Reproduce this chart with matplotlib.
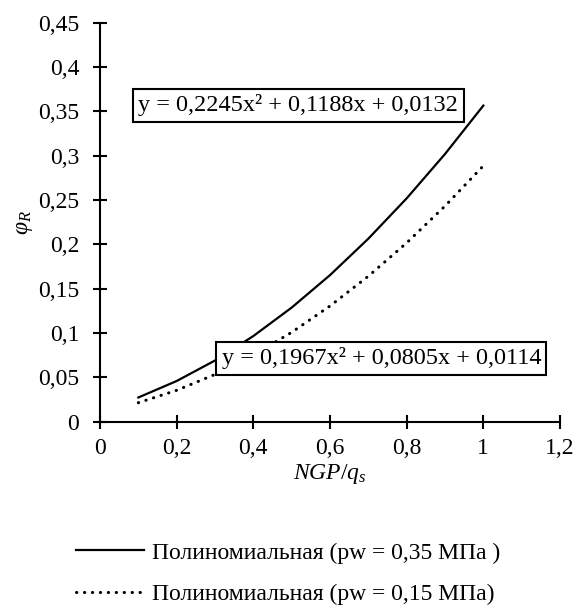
import matplotlib
matplotlib.use("Agg")
import matplotlib.pyplot as plt

plt.rcParams['font.family'] = ['Liberation Serif', 'DejaVu Serif']
plt.rcParams['mathtext.fontset'] = 'custom'
plt.rcParams['mathtext.rm'] = 'Liberation Serif'
plt.rcParams['mathtext.it'] = 'Liberation Serif:italic'

# values
x = [0.1, 0.2, 0.3, 0.4, 0.5, 0.6, 0.7, 0.8, 0.9, 1.0]
y_035 = [0.0273, 0.0459, 0.0690, 0.0966, 0.1287, 0.1653, 0.2064, 0.2519, 0.3019, 0.3565]
y_015 = [0.0214, 0.0354, 0.0533, 0.0751, 0.1008, 0.1305, 0.1641, 0.2017, 0.2432, 0.2886]

names = ["Полиномиальная (pw = 0,35 МПа )", "Полиномиальная (pw = 0,15 МПа)"]
eq1 = "y = 0,2245x² + 0,1188x + 0,0132"
eq2 = "y = 0,1967x² + 0,0805x + 0,0114"

xticks = [0, 0.2, 0.4, 0.6, 0.8, 1.0, 1.2]
xlabels = ["0", "0,2", "0,4", "0,6", "0,8", "1", "1,2"]
yticks = [0, 0.05, 0.1, 0.15, 0.2, 0.25, 0.3, 0.35, 0.4, 0.45]
ylabels = ["0", "0,05", "0,1", "0,15", "0,2", "0,25", "0,3", "0,35", "0,4", "0,45"]

fs = 17

fig = plt.figure(figsize=(5.75, 6.08), dpi=100)
ax = fig.add_axes([100 / 575, 1 - 421.7 / 608, 460 / 575, 399 / 608])

ax.plot(x, y_035, color='black', lw=1.6, label=names[0])
ax.plot(x, y_015, color='black', lw=2.2, linestyle=(0, (0.1, 2.5)),
        dash_capstyle='round', label=names[1])

ax.set_xlim(0, 1.2)
ax.set_ylim(0, 0.45)
ax.set_xticks(xticks)
ax.set_xticklabels(xlabels)
ax.set_yticks(yticks)
ax.set_yticklabels(ylabels)
ax.tick_params(direction='inout', length=10, width=1.5, labelsize=fs)
ax.tick_params(axis='x', pad=7)
ax.tick_params(axis='y', pad=10)

for s in ['top', 'right']:
    ax.spines[s].set_visible(False)
for s in ['left', 'bottom']:
    ax.spines[s].set_linewidth(1.5)

ax.set_xlabel(r"$NGP/q_s$", fontsize=fs, labelpad=2)
ax.set_ylabel(r"$\varphi_R$", fontsize=fs, labelpad=2)

box = dict(boxstyle='square,pad=0.22', fc='white', ec='black', lw=1.5)
ax.text(0.100, 0.357, eq1, fontsize=17.5, ha='left', va='center', bbox=box, zorder=5)
ax.text(0.317, 0.0713, eq2, fontsize=17.5, ha='left', va='center', bbox=box, zorder=5)

fig.legend(loc='upper left', bbox_to_anchor=(76 / 575, 1 - 542 / 608),
           frameon=False, fontsize=fs, handlelength=2.9, handletextpad=0.34,
           borderpad=0, borderaxespad=0, labelspacing=0.85)

fig.savefig("out.png", dpi=100)
